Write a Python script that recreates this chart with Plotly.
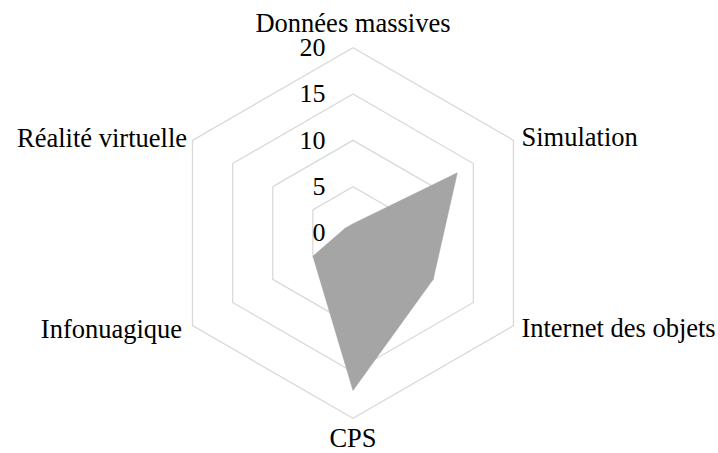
import plotly.graph_objects as go

categories = ["Données massives", "Simulation", "Internet des objets", "CPS", "Infonuagique", "Réalité virtuelle"]
values = [1, 13, 10, 17, 5, 1]
radial_ticks = [0, 5, 10, 15, 20]
axis_max = 20
range_max = 21.5   # a little headroom so outer labels can sit beyond the 20 ring

# label placement around the outer ring (style only)
label_positions = ["top center", "middle right", "middle right", "bottom center", "middle left", "middle left"]
label_pad = [12.2, 7.4, 0, 12.8, 0, 7.2]            # marker size used as text offset
label_r_shift = [0, 0.3, 0.99, 0, 1.3, 0]           # radial push of the label anchor

W, H = 718, 453
cx, cy, R20 = 353, 233, 185.3
R = R20 * range_max / axis_max
FONT = "Liberation Serif, Times New Roman, serif"

fig = go.Figure()
fig.add_trace(go.Scatterpolar(
    r=values + values[:1],
    theta=categories + categories[:1],
    mode="lines",
    fill="toself",
    fillcolor="#a5a5a5",
    line=dict(color="#a5a5a5", width=0.5),
    hoverinfo="skip",
    showlegend=False,
))
fig.add_trace(go.Scatterpolar(
    r=[axis_max + s for s in label_r_shift],
    theta=categories,
    mode="markers+text",
    text=categories,
    textposition=label_positions,
    textfont=dict(family=FONT, size=26.5, color="#000000"),
    marker=dict(size=label_pad, color="rgba(0,0,0,0)", line=dict(width=0)),
    cliponaxis=False,
    hoverinfo="skip",
    showlegend=False,
))

fig.update_layout(
    width=W, height=H,
    margin=dict(l=0, r=0, t=0, b=0),
    paper_bgcolor="white",
    plot_bgcolor="white",
    font=dict(family=FONT, size=26.5, color="#000000"),
    polar=dict(
        domain=dict(x=[(cx - R) / W, (cx + R) / W], y=[(H - cy - R) / H, (H - cy + R) / H]),
        gridshape="linear",
        bgcolor="white",
        radialaxis=dict(
            range=[0, range_max],
            tickvals=radial_ticks,
            ticktext=[str(v) for v in radial_ticks],
            angle=90,
            side="counterclockwise",
            showline=False,
            showgrid=True,
            gridcolor="#d9d9d9",
            gridwidth=1.3,
            ticks="outside",
            ticklen=18,
            tickcolor="rgba(0,0,0,0)",
            tickfont=dict(size=26, color="#000000"),
            tickangle=90,
        ),
        angularaxis=dict(
            direction="clockwise",
            rotation=90,
            showgrid=False,
            showline=False,
            ticks="",
            showticklabels=False,
        ),
    ),
)

fig.write_html(
    "out.html",
    config={"displayModeBar": False, "staticPlot": True},
    post_script="document.documentElement.style.margin='0';document.body.style.margin='0';"
                "document.documentElement.style.overflow='hidden';document.body.style.overflow='hidden';",
)
